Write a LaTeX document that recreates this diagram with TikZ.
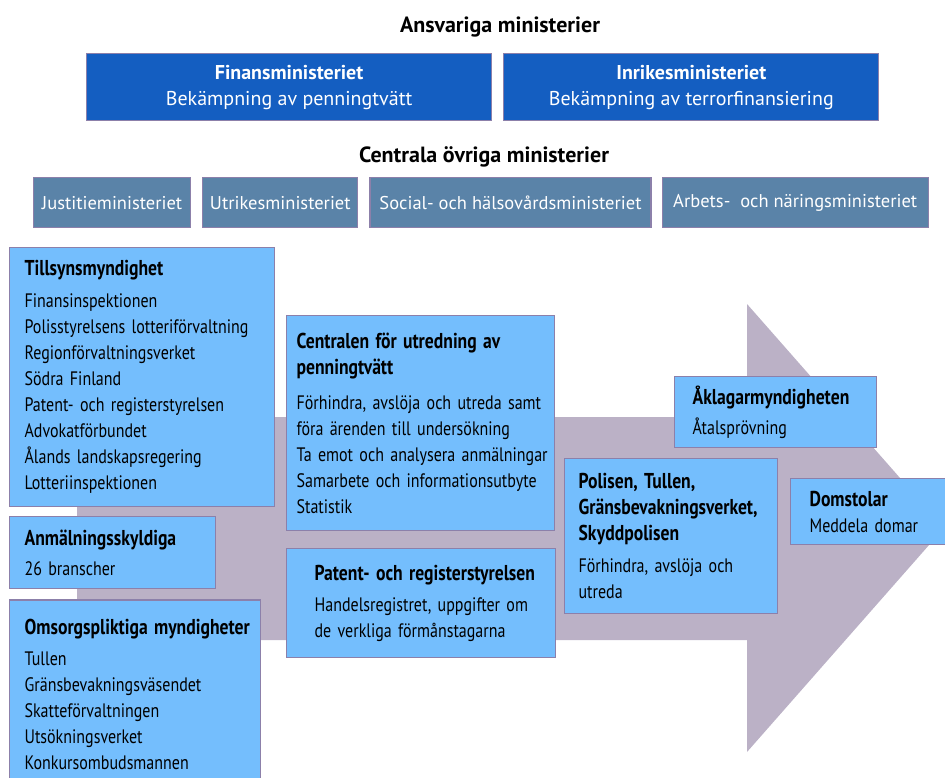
\documentclass[tikz,border=0pt]{standalone}
\usepackage{fontspec}
\setmainfont{PT Sans}[FakeStretch=0.82]
\newfontfamily\headfont{PT Sans}
\usetikzlibrary{positioning}
\definecolor{leadblue}{RGB}{20,94,193}
\definecolor{otherblue}{RGB}{90,131,168}
\definecolor{actorblue}{RGB}{116,190,253}
\definecolor{flowgrey}{RGB}{187,177,198}
\definecolor{boxedge}{RGB}{140,128,170}
\newcommand{\boxhead}[1]{{\fontsize{21.5}{26}\selectfont\bfseries #1}}

\begin{document}
\begin{tikzpicture}[x=1pt,y=-1pt,node distance=11pt,
  every node/.style={font=\fontsize{19}{26}\selectfont},
  heading/.style={font=\headfont\fontsize{22}{28}\selectfont\bfseries},
  lead/.style={draw=boxedge,line width=1.2pt,fill=leadblue,text=white,inner sep=0pt,minimum height=67pt,align=center,font=\headfont\fontsize{20}{26}\selectfont},
  other/.style={draw=boxedge,line width=1.2pt,fill=otherblue,text=white,inner sep=0pt,minimum height=50pt,font=\headfont\fontsize{18.5}{24}\selectfont},
  actor/.style n args={3}{draw=boxedge,line width=1.2pt,fill=actorblue,align=left,inner sep=0pt,text width=#1,minimum height=#3,
    execute at begin node={\fontsize{19.5}{26}\selectfont\leftskip=#2\relax\rightskip=0pt plus 1fil minus 12pt\relax}}]
\useasboundingbox (0,0) rectangle (945,778);
\clip (0,0) rectangle (945,778);
% ministries
\node[heading] (resp) at (500,27) {Ansvariga ministerier};
\node[lead,minimum width=405pt,anchor=north west] (finans) at (86,53) {\textbf{Finansministeriet}\\Bekämpning av penningtvätt};
\node[lead,minimum width=375pt,right=of finans] (inrikes) {\textbf{Inrikesministeriet}\\Bekämpning av terrorfinansiering};
\node[heading] (central) at (484,157) {Centrala övriga ministerier};
\node[other,minimum width=157pt,anchor=north west] (justitie) at (33,177) {Justitieministeriet};
\node[other,minimum width=155pt,right=of justitie] (utrikes) {Utrikesministeriet};
\node[other,minimum width=281pt,right=of utrikes] (social) {Social- och hälsovårdsministeriet};
\node[other,minimum width=266pt,right=10pt of social] (arbets) {Arbets-\ \ och näringsministeriet};
% flow arrow
\fill[flowgrey] (77,417) -- (747,417) -- (747,304) -- (944,528) -- (747,752) -- (747,640) -- (77,640) -- cycle;
% authorities
\node[actor={265pt}{15pt}{259pt},anchor=north west] (tillsyn) at (9,247) {\boxhead{Tillsynsmyndighet}\\[6pt]Finansinspektionen\\Polisstyrelsens lotteriförvaltning\\Regionförvaltningsverket\\Södra Finland\\Patent- och registerstyrelsen\\Advokatförbundet\\Ålands landskapsregering\\Lotteriinspektionen};
\node[actor={206pt}{15pt}{72pt},below=9pt of tillsyn.south west,anchor=north west] (anmal) {\boxhead{Anmälningsskyldiga}\\[4pt]26 branscher};
\node[actor={251pt}{15pt}{188pt},below=10pt of anmal.south west,anchor=north west] (omsorg) {\boxhead{Omsorgspliktiga myndigheter}\\[5pt]Tullen\\Gränsbevakningsväsendet\\Skatteförvaltningen\\Utsökningsverket\\Konkursombudsmannen};
\node[actor={268pt}{10pt}{215pt},anchor=north west] (fiu) at (286,315) {\boxhead{Centralen för utredning av}\\\boxhead{penningtvätt}\\[9pt]Förhindra, avslöja och utreda samt\\föra ärenden till undersökning\\Ta emot och analysera anmälningar\\Samarbete och informationsutbyte\\Statistik};
\node[actor={269pt}{28pt}{109pt},below=17pt of fiu.south west,anchor=north west] (prh) {\boxhead{Patent- och registerstyrelsen}\\[5pt]Handelsregistret, uppgifter om\\de verkliga förmånstagarna};
\node[actor={202pt}{18pt}{71pt},anchor=north west] (akl) at (674,376) {\boxhead{Åklagarmyndigheten}\\[4pt]Åtalsprövning};
\node[actor={213pt}{14pt}{155pt},anchor=north west] (polis) at (564,458) {\boxhead{Polisen, Tullen,}\\\boxhead{Gränsbevakningsverket,}\\\boxhead{Skyddpolisen}\\[6pt]Förhindra, avslöja och\\utreda};
\node[actor={170pt}{19pt}{66pt},anchor=north west] (domstol) at (790,478) {\boxhead{Domstolar}\\Meddela domar};
\end{tikzpicture}
\end{document}
